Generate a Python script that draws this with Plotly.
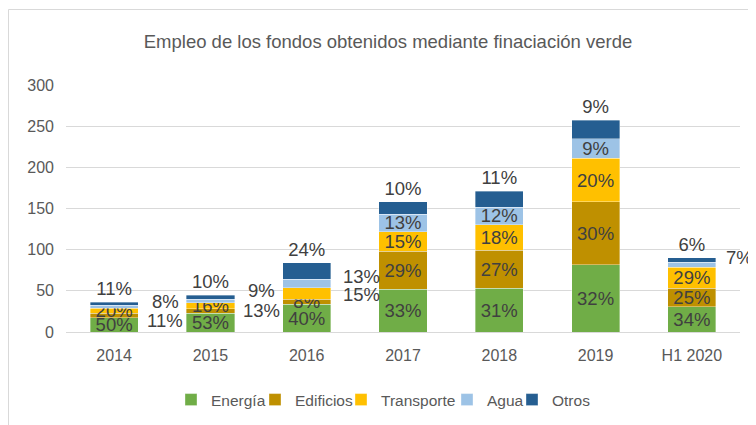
import plotly.graph_objects as go

categories = ["2014", "2015", "2016", "2017", "2018", "2019", "H1 2020"]

energia = [17.5, 22.5, 33.5, 52, 53, 81.5, 30.5]
edificios = [5.5, 6, 6.5, 46, 46.5, 76.5, 22.5]
transporte = [6, 7, 13.5, 24, 31, 53, 25.5]
agua = [3.5, 4.5, 10.5, 21, 21, 24, 6]
otros = [3.5, 4.5, 20, 15, 19.5, 22, 5.5]

lbl_energia = ["50%", "53%", "40%", "33%", "31%", "32%", "34%"]
lbl_edificios = ["", "", "8%", "29%", "27%", "30%", "25%"]
lbl_transporte = ["20%", "16%", "", "15%", "18%", "20%", "29%"]
lbl_agua = ["", "", "", "13%", "12%", "9%", ""]
lbl_otros = ["11%", "10%", "24%", "10%", "11%", "9%", "6%"]

# labels that sit beside the bars in the original chart: (category, text, value level)
side_labels = [
    ("2015", "8%", 37.5), ("2015", "11%", 14),
    ("2016", "9%", 51), ("2016", "13%", 26.5),
    ("2017", "13%", 68), ("2017", "15%", 45),
    ("H1 2020", "7%", 90),
]

series = [
    ("Energía", energia, lbl_energia, "#70AD47"),
    ("Edificios", edificios, lbl_edificios, "#BF9000"),
    ("Transporte", transporte, lbl_transporte, "#FFC000"),
    ("Agua", agua, lbl_agua, "#9DC3E6"),
    ("Otros", otros, lbl_otros, "#255E91"),
]

LABEL_FONT = dict(family="Liberation Sans, Arial, sans-serif", size=18.5, color="#404040")
GRAY = "#595959"

# page is offset by the default 8px body margin, so the figure is 8px smaller
W, H = 748, 417
L, R, T, B = 58, 16, 77, 93
pw, ph = W - L - R, H - T - B


def px_x(p):
    return (p - L) / pw


def px_y(p):
    return (H - B - p) / ph


legend_names = ["legend", "legend2", "legend3", "legend4", "legend5"]
legend_text_start = [203, 287, 373, 479, 544]  # where each legend entry's text begins (fig px)

fig = go.Figure()
for i, (name, vals, lbls, col) in enumerate(series):
    fig.add_trace(go.Bar(
        name=name, x=categories, y=vals, text=lbls,
        marker=dict(color=col, line=dict(color="rgba(255,255,255,0.6)", width=0.6)),
        textposition="outside" if name == "Otros" else "inside",
        insidetextanchor="middle",
        constraintext="none",
        textangle=0,
        textfont=LABEL_FONT,
        insidetextfont=LABEL_FONT,
        outsidetextfont=LABEL_FONT,
        cliponaxis=False,
        hoverinfo="x+y+name",
        legend=legend_names[i],
    ))

annotations = []
for cat, txt, yv in side_labels:
    shift = 48 if cat == "H1 2020" else (-42 if cat == "2017" else -45)
    annotations.append(dict(
        x=categories.index(cat), y=yv, xref="x", yref="y", text=txt, showarrow=False,
        xshift=shift, font=LABEL_FONT, xanchor="center", yanchor="middle",
    ))

legends = {}
for i, ln in enumerate(legend_names):
    legends[ln] = dict(
        orientation="h", x=px_x(legend_text_start[i] - 40), xanchor="left",
        y=px_y(392), yanchor="middle",
        font=dict(size=15.5, color=GRAY, family="Liberation Sans, Arial, sans-serif"),
        itemwidth=30, bgcolor="rgba(0,0,0,0)", borderwidth=0,
    )

fig.update_layout(
    width=W, height=H,
    margin=dict(l=L, r=R, t=T, b=B, autoexpand=False),
    barmode="stack",
    bargap=0.5,
    paper_bgcolor="white",
    plot_bgcolor="white",
    title=dict(
        text="Empleo de los fondos obtenidos mediante finaciación verde",
        font=dict(family="Liberation Sans, Arial, sans-serif", size=18.5, color=GRAY),
        x=380 / W, xanchor="center", xref="container",
        y=(H - 34) / H, yanchor="middle", yref="container",
    ),
    font=dict(family="Liberation Sans, Arial, sans-serif", color=GRAY),
    yaxis=dict(
        range=[0, 300], dtick=50, showgrid=True, gridcolor="#D9D9D9", gridwidth=1,
        zeroline=False, showline=False,
        tickfont=dict(size=16, color=GRAY), ticks="", ticklabelstandoff=11,
    ),
    xaxis=dict(
        type="category", range=[-0.5, len(categories) - 0.5],
        showline=True, linecolor="#D9D9D9", linewidth=1.3,
        tickfont=dict(size=16, color=GRAY), ticks="", ticklabelstandoff=9,
    ),
    annotations=annotations,
    shapes=[dict(
        type="rect", xref="paper", yref="paper",
        x0=px_x(0.5), x1=px_x(770), y0=px_y(440), y1=px_y(1.5),
        line=dict(color="#D9D9D9", width=1), fillcolor="rgba(0,0,0,0)", layer="below",
    )],
    showlegend=True,
    **legends,
)

fig.write_html("out.html")
